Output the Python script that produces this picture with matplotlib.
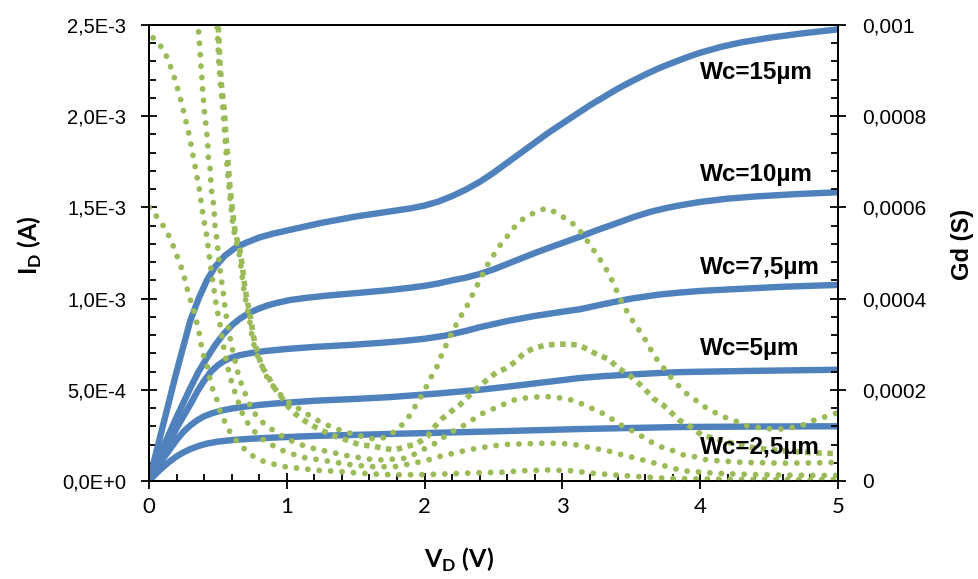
"""Drain current I_D and output conductance Gd vs V_D for five channel widths."""

import math

import matplotlib
matplotlib.use("Agg")
import matplotlib.pyplot as plt  # noqa: E402
from matplotlib.ticker import FuncFormatter, MultipleLocator  # noqa: E402

plt.rcParams["mathtext.fontset"] = "custom"
plt.rcParams["mathtext.bf"] = "Lato:bold"
plt.rcParams["mathtext.rm"] = "Lato"

BLUE = "#4F81BD"
GREEN = "#9BBB59"

# ---- I_D (A) vs V_D (V), solid blue, left axis ----
vd_15 = [0, 0.1, 0.2, 0.3, 0.36, 0.42, 0.48, 0.55, 0.62, 0.7, 0.8, 0.9, 1.0,
         1.1, 1.25, 1.5, 1.75, 1.9, 2.0, 2.1, 2.2, 2.3, 2.4, 2.5, 2.6, 2.7,
         2.8, 2.9, 3.0, 3.1, 3.2, 3.3, 3.4, 3.5, 3.6, 3.7, 3.8, 3.9, 4.0, 4.15,
         4.3, 4.5, 4.75, 5.0]
id_15 = [0, 0.30e-3, 0.60e-3, 0.88e-3, 1.0e-3, 1.1e-3, 1.175e-3, 1.235e-3,
         1.275e-3, 1.305e-3, 1.335e-3, 1.356e-3, 1.373e-3, 1.39e-3, 1.415e-3,
         1.45e-3, 1.478e-3, 1.495e-3, 1.51e-3, 1.532e-3, 1.562e-3, 1.598e-3,
         1.64e-3, 1.69e-3, 1.745e-3, 1.8e-3, 1.855e-3, 1.91e-3, 1.96e-3,
         2.01e-3, 2.06e-3, 2.105e-3, 2.15e-3, 2.19e-3, 2.228e-3, 2.263e-3,
         2.293e-3, 2.322e-3, 2.348e-3, 2.38e-3, 2.405e-3, 2.43e-3, 2.455e-3,
         2.476e-3]

vd_10 = [0, 0.1, 0.2, 0.3, 0.36, 0.42, 0.48, 0.54, 0.6, 0.66, 0.72, 0.78, 0.85,
         0.92, 1.02, 1.15, 1.3, 1.5, 1.75, 1.9, 2.0, 2.1, 2.2, 2.3, 2.4, 2.5,
         2.6, 2.7, 2.8, 2.9, 3.0, 3.13, 3.25, 3.4, 3.52, 3.64, 3.75, 3.85, 4.0,
         4.2, 4.4, 4.7, 5.0]
id_10 = [0, 0.18e-3, 0.35e-3, 0.51e-3, 0.60e-3, 0.675e-3, 0.745e-3, 0.805e-3,
         0.853e-3, 0.89e-3, 0.918e-3, 0.94e-3, 0.96e-3, 0.975e-3, 0.992e-3,
         1.005e-3, 1.017e-3, 1.03e-3, 1.047e-3, 1.06e-3, 1.07e-3, 1.083e-3,
         1.1e-3, 1.115e-3, 1.135e-3, 1.16e-3, 1.19e-3, 1.22e-3, 1.25e-3,
         1.278e-3, 1.305e-3, 1.34e-3, 1.375e-3, 1.415e-3, 1.448e-3, 1.476e-3,
         1.496e-3, 1.511e-3, 1.53e-3, 1.548e-3, 1.56e-3, 1.573e-3, 1.583e-3]

vd_7 = [0, 0.1, 0.2, 0.3, 0.35, 0.4, 0.45, 0.5, 0.55, 0.6, 0.66, 0.75, 0.85,
        1.0, 1.2, 1.46, 1.676, 1.85, 2.0, 2.15, 2.3, 2.4, 2.6, 2.8, 3.0, 3.13,
        3.3, 3.5, 3.7, 3.85, 4.0, 4.2, 4.6, 5.0]
id_7 = [0, 0.145e-3, 0.29e-3, 0.42e-3, 0.49e-3, 0.55e-3, 0.60e-3, 0.635e-3,
        0.66e-3, 0.677e-3, 0.69e-3, 0.703e-3, 0.713e-3, 0.724e-3, 0.735e-3,
        0.746e-3, 0.757e-3, 0.768e-3, 0.78e-3, 0.797e-3, 0.823e-3, 0.843e-3,
        0.877e-3, 0.905e-3, 0.928e-3, 0.942e-3, 0.97e-3, 1.0e-3, 1.022e-3,
        1.033e-3, 1.042e-3, 1.05e-3, 1.065e-3, 1.075e-3]

vd_5 = [0, 0.1, 0.2, 0.25, 0.3, 0.35, 0.4, 0.46, 0.52, 0.6, 0.7, 0.8, 0.9,
        1.05, 1.2, 1.5, 1.75, 2.1, 2.4, 2.6, 2.8, 3.0, 3.13, 3.3, 3.5, 3.7,
        3.85, 4.3, 5.0]
id_5 = [0, 0.12e-3, 0.225e-3, 0.27e-3, 0.305e-3, 0.333e-3, 0.355e-3,
        0.372e-3, 0.385e-3, 0.397e-3, 0.408e-3, 0.417e-3, 0.424e-3, 0.432e-3,
        0.44e-3, 0.45e-3, 0.46e-3, 0.48e-3, 0.50e-3, 0.517e-3, 0.535e-3,
        0.553e-3, 0.565e-3, 0.575e-3, 0.584e-3, 0.592e-3, 0.597e-3, 0.603e-3,
        0.61e-3]

vd_2 = [0, 0.05, 0.1, 0.15, 0.2, 0.25, 0.3, 0.36, 0.42, 0.5, 0.61, 0.75, 0.9,
        1.2, 1.75, 2.5, 3.13, 3.85, 4.5, 5.0]
id_2 = [0, 0.04e-3, 0.075e-3, 0.107e-3, 0.135e-3, 0.157e-3, 0.175e-3,
        0.192e-3, 0.205e-3, 0.216e-3, 0.225e-3, 0.232e-3, 0.238e-3, 0.247e-3,
        0.258e-3, 0.272e-3, 0.285e-3, 0.296e-3, 0.299e-3, 0.30e-3]

# ---- Gd (S) vs V_D (V), dotted green, right axis ----
gx_15 = [0.49, 0.495, 0.507, 0.52, 0.537, 0.549, 0.562, 0.575, 0.592, 0.61,
         0.627, 0.65, 0.67, 0.685, 0.70, 0.715, 0.73, 0.742, 0.76, 0.785, 0.818,
         0.86, 0.914, 0.963, 1.023, 1.096, 1.168, 1.24, 1.32, 1.40, 1.48, 1.57,
         1.65, 1.73, 1.80, 1.86, 1.91, 1.95, 2.0, 2.03, 2.08, 2.11, 2.18, 2.22,
         2.26, 2.305, 2.34, 2.38, 2.42, 2.46, 2.506, 2.55, 2.61, 2.66, 2.72,
         2.80, 2.88, 2.96, 3.03, 3.10, 3.15, 3.20, 3.25, 3.30, 3.34, 3.38, 3.41,
         3.45, 3.49, 3.54, 3.59, 3.63, 3.67, 3.73, 3.78, 3.84, 3.90, 3.96, 4.03,
         4.12, 4.20, 4.27, 4.34, 4.43, 4.52, 4.60, 4.68, 4.76, 4.83, 4.91, 5.0]
gd_15 = [1.02e-3, 0.996e-3, 0.916e-3, 0.865e-3, 0.814e-3, 0.762e-3, 0.711e-3,
         0.66e-3, 0.609e-3, 0.558e-3, 0.532e-3, 0.507e-3, 0.465e-3, 0.426e-3,
         0.40e-3, 0.375e-3, 0.353e-3, 0.327e-3, 0.30e-3, 0.276e-3, 0.254e-3,
         0.225e-3, 0.203e-3, 0.186e-3, 0.170e-3, 0.157e-3, 0.143e-3, 0.130e-3,
         0.119e-3, 0.110e-3, 0.103e-3, 0.0958e-3, 0.0914e-3, 0.097e-3,
         0.113e-3, 0.130e-3, 0.152e-3, 0.174e-3, 0.197e-3, 0.220e-3, 0.243e-3,
         0.267e-3, 0.314e-3, 0.338e-3, 0.360e-3, 0.382e-3, 0.404e-3, 0.428e-3,
         0.452e-3, 0.476e-3, 0.498e-3, 0.518e-3, 0.540e-3, 0.560e-3, 0.576e-3,
         0.589e-3, 0.598e-3, 0.588e-3, 0.574e-3, 0.559e-3, 0.540e-3, 0.518e-3,
         0.496e-3, 0.474e-3, 0.452e-3, 0.428e-3, 0.404e-3, 0.382e-3, 0.360e-3,
         0.338e-3, 0.316e-3, 0.294e-3, 0.273e-3, 0.250e-3, 0.230e-3, 0.210e-3,
         0.192e-3, 0.179e-3, 0.163e-3, 0.148e-3, 0.137e-3, 0.130e-3, 0.121e-3,
         0.117e-3, 0.114e-3, 0.114e-3, 0.118e-3, 0.124e-3, 0.134e-3, 0.141e-3,
         0.150e-3]

gx_10 = [0.497, 0.503, 0.515, 0.527, 0.546, 0.557, 0.571, 0.583, 0.60, 0.619,
         0.636, 0.66, 0.68, 0.695, 0.71, 0.726, 0.74, 0.752, 0.77, 0.793, 0.818,
         0.866, 0.902, 0.95, 1.01, 1.07, 1.14, 1.22, 1.29, 1.37, 1.45, 1.53,
         1.62, 1.70, 1.785, 1.86, 1.94, 2.02, 2.06, 2.12, 2.19, 2.26, 2.32, 2.38,
         2.45, 2.52, 2.59, 2.66, 2.72, 2.79, 2.88, 2.96, 3.04, 3.12, 3.20, 3.26,
         3.34, 3.40, 3.47, 3.54, 3.60, 3.66, 3.73, 3.79, 3.85, 3.93, 4.01, 4.2,
         4.4, 4.6, 4.8, 5.0]
gd_10 = [1.02e-3, 0.996e-3, 0.916e-3, 0.865e-3, 0.814e-3, 0.762e-3, 0.711e-3,
         0.66e-3, 0.609e-3, 0.558e-3, 0.532e-3, 0.507e-3, 0.465e-3, 0.426e-3,
         0.40e-3, 0.375e-3, 0.353e-3, 0.327e-3, 0.30e-3, 0.276e-3, 0.251e-3,
         0.229e-3, 0.207e-3, 0.189e-3, 0.163e-3, 0.145e-3, 0.130e-3, 0.116e-3,
         0.106e-3, 0.0958e-3, 0.0884e-3, 0.079e-3, 0.0768e-3, 0.0717e-3,
         0.068e-3, 0.0753e-3, 0.0811e-3, 0.0972e-3, 0.115e-3, 0.135e-3,
         0.152e-3, 0.168e-3, 0.186e-3, 0.203e-3, 0.221e-3, 0.238e-3, 0.247e-3,
         0.262e-3, 0.280e-3, 0.291e-3, 0.298e-3, 0.300e-3, 0.300e-3, 0.298e-3,
         0.286e-3, 0.276e-3, 0.267e-3, 0.248e-3, 0.236e-3, 0.218e-3, 0.201e-3,
         0.181e-3, 0.167e-3, 0.150e-3, 0.133e-3, 0.119e-3, 0.101e-3, 0.085e-3,
         0.072e-3, 0.066e-3, 0.062e-3, 0.060e-3]

gx_7 = [0.356, 0.358, 0.363, 0.37, 0.375, 0.382, 0.387, 0.394, 0.40, 0.41,
        0.419, 0.426, 0.43, 0.443, 0.448, 0.455, 0.467, 0.474, 0.479, 0.49,
        0.51, 0.52, 0.532, 0.544, 0.554, 0.566, 0.583, 0.597, 0.617, 0.636,
        0.655, 0.684, 0.72, 0.757, 0.81, 0.878, 0.95, 1.03, 1.11, 1.19, 1.27,
        1.36, 1.44, 1.53, 1.61, 1.70, 1.78, 1.86, 1.94, 2.02, 2.09, 2.16, 2.23,
        2.31, 2.38, 2.455, 2.535, 2.61, 2.69, 2.78, 2.86, 2.95, 3.03, 3.12,
        3.19, 3.26, 3.34, 3.41, 3.49, 3.56, 3.64, 3.71, 3.79, 3.88, 3.96, 4.05,
        4.3, 4.6, 4.88, 5.0]
gd_7 = [1.01e-3, 0.996e-3, 0.971e-3, 0.945e-3, 0.918e-3, 0.893e-3, 0.867e-3,
        0.841e-3, 0.816e-3, 0.79e-3, 0.764e-3, 0.739e-3, 0.711e-3, 0.686e-3,
        0.66e-3, 0.634e-3, 0.61e-3, 0.585e-3, 0.558e-3, 0.536e-3, 0.477e-3,
        0.453e-3, 0.428e-3, 0.401e-3, 0.375e-3, 0.352e-3, 0.325e-3, 0.298e-3,
        0.274e-3, 0.249e-3, 0.225e-3, 0.203e-3, 0.174e-3, 0.152e-3, 0.132e-3,
        0.116e-3, 0.101e-3, 0.0884e-3, 0.079e-3, 0.0717e-3, 0.0665e-3,
        0.0607e-3, 0.0555e-3, 0.0511e-3, 0.0475e-3, 0.046e-3, 0.0482e-3,
        0.0497e-3, 0.0607e-3, 0.0739e-3, 0.0848e-3, 0.101e-3, 0.113e-3,
        0.126e-3, 0.141e-3, 0.154e-3, 0.162e-3, 0.174e-3, 0.181e-3, 0.183e-3,
        0.186e-3, 0.183e-3, 0.181e-3, 0.172e-3, 0.162e-3, 0.154e-3, 0.140e-3,
        0.125e-3, 0.113e-3, 0.101e-3, 0.0863e-3, 0.0753e-3, 0.068e-3,
        0.057e-3, 0.0533e-3, 0.046e-3, 0.041e-3, 0.039e-3, 0.040e-3, 0.041e-3]

gx_5 = [0.03, 0.044, 0.104, 0.14, 0.169, 0.196, 0.22, 0.242, 0.261, 0.281,
        0.30, 0.314, 0.332, 0.346, 0.363, 0.375, 0.387, 0.40, 0.418, 0.438,
        0.45, 0.462, 0.474, 0.486, 0.503, 0.52, 0.532, 0.546, 0.564, 0.583,
        0.607, 0.69, 0.80, 0.945, 1.11, 1.28, 1.44, 1.61, 1.70, 1.785, 1.875,
        1.96, 2.04, 2.12, 2.21, 2.29, 2.38, 2.46, 2.55, 2.63, 2.72, 2.80, 2.88,
        2.97, 3.06, 3.14, 3.22, 3.31, 3.39, 3.47, 3.56, 3.63, 3.72, 3.80, 3.90,
        4.1, 4.4, 4.7, 5.0]
gd_5 = [0.972e-3, 0.967e-3, 0.947e-3, 0.922e-3, 0.898e-3, 0.873e-3, 0.848e-3,
        0.822e-3, 0.797e-3, 0.773e-3, 0.746e-3, 0.721e-3, 0.695e-3, 0.67e-3,
        0.644e-3, 0.619e-3, 0.593e-3, 0.569e-3, 0.539e-3, 0.492e-3, 0.464e-3,
        0.439e-3, 0.414e-3, 0.39e-3, 0.362e-3, 0.337e-3, 0.311e-3, 0.286e-3,
        0.259e-3, 0.235e-3, 0.209e-3, 0.137e-3, 0.0958e-3, 0.0695e-3,
        0.052e-3, 0.0445e-3, 0.0366e-3, 0.0314e-3, 0.0314e-3, 0.0314e-3,
        0.0366e-3, 0.0417e-3, 0.0475e-3, 0.0548e-3, 0.0607e-3, 0.0665e-3,
        0.0717e-3, 0.0753e-3, 0.079e-3, 0.0811e-3, 0.0811e-3, 0.0826e-3,
        0.0826e-3, 0.0826e-3, 0.0811e-3, 0.0775e-3, 0.0717e-3, 0.068e-3,
        0.0607e-3, 0.0548e-3, 0.0482e-3, 0.0423e-3, 0.0351e-3, 0.0278e-3,
        0.0219e-3, 0.017e-3, 0.014e-3, 0.0125e-3, 0.012e-3]

gx_2 = [0, 0.07, 0.12, 0.16, 0.22, 0.25, 0.29, 0.32, 0.36, 0.39, 0.42, 0.455,
        0.49, 0.515, 0.55, 0.59, 0.64, 0.70, 0.77, 0.84, 0.93, 1.01, 1.10,
        1.19, 1.28, 1.45, 1.62, 1.78, 2.0, 2.2, 2.38, 2.55, 2.72, 2.89, 3.06,
        3.22, 3.39, 3.56, 3.74, 4.0, 4.3, 4.6, 5.0]
gd_2 = [0.600e-3, 0.575e-3, 0.552e-3, 0.528e-3, 0.480e-3, 0.455e-3, 0.406e-3,
        0.380e-3, 0.331e-3, 0.280e-3, 0.254e-3, 0.207e-3, 0.181e-3, 0.153e-3,
        0.130e-3, 0.106e-3, 0.086e-3, 0.068e-3, 0.051e-3, 0.042e-3, 0.035e-3,
        0.030e-3, 0.028e-3, 0.024e-3, 0.0226e-3, 0.019e-3, 0.0154e-3,
        0.0135e-3, 0.014e-3, 0.016e-3, 0.018e-3, 0.019e-3, 0.0226e-3,
        0.0241e-3, 0.0226e-3, 0.017e-3, 0.013e-3, 0.0095e-3, 0.006e-3,
        0.0045e-3, 0.0035e-3, 0.003e-3, 0.003e-3]

LABELS = ["Wc=15µm", "Wc=10µm", "Wc=7,5µm", "Wc=5µm", "Wc=2,5µm"]
LABEL_Y = [2.242e-3, 1.678e-3, 1.173e-3, 0.729e-3, 0.186e-3]


def sci_comma(v, _pos=None):
    if abs(v) < 1e-12:
        return "0,0E+0"
    e = math.floor(math.log10(abs(v)) + 1e-9)
    m = v / 10 ** e
    return f"{m:.1f}".replace(".", ",") + f"E{e:+d}"


def plain_comma(v, _pos=None):
    if abs(v) < 1e-12:
        return "0"
    return f"{v:.6g}".replace(".", ",")


def main():
    fig = plt.figure(figsize=(9.79, 5.79), dpi=100)
    ax = fig.add_axes([149 / 979, 1 - 481 / 579, 689 / 979, 456 / 579])
    ax2 = ax.twinx()

    for x, y in [(vd_15, id_15), (vd_10, id_10), (vd_7, id_7),
                 (vd_5, id_5), (vd_2, id_2)]:
        ax.plot(x, y, color=BLUE, lw=4.6, solid_capstyle="round",
                solid_joinstyle="round")

    dot = (0, (0.01, 1.95))
    for x, y in [(gx_15, gd_15), (gx_7, gd_7), (gx_5, gd_5), (gx_2, gd_2)]:
        ax2.plot(x, y, color=GREEN, lw=4.2, linestyle=dot,
                 dash_capstyle="round")
    ax2.plot(gx_10, gd_10, color=GREEN, lw=4.0, linestyle=(0, (1, 1.0)),
             dash_capstyle="butt")

    ax.set_xlim(0, 5)
    ax.set_ylim(0, 2.5e-3)
    ax2.set_ylim(0, 1e-3)

    ax.xaxis.set_major_locator(MultipleLocator(1))
    ax.xaxis.set_minor_locator(MultipleLocator(0.2))
    ax.yaxis.set_major_locator(MultipleLocator(0.5e-3))
    ax.yaxis.set_minor_locator(MultipleLocator(1e-4))
    ax2.yaxis.set_major_locator(MultipleLocator(2e-4))
    ax2.yaxis.set_minor_locator(MultipleLocator(4e-5))
    ax.yaxis.set_major_formatter(FuncFormatter(sci_comma))
    ax2.yaxis.set_major_formatter(FuncFormatter(plain_comma))

    for a in (ax, ax2):
        for sp in a.spines.values():
            sp.set_linewidth(1.3)
            sp.set_color("black")
        a.tick_params(which="major", direction="inout", length=11, width=1.3)
        a.tick_params(which="minor", direction="in", length=5, width=1.3)
    ax.tick_params(axis="y", which="major", pad=11, labelsize=14.5)
    ax.tick_params(axis="x", which="major", pad=6, labelsize=16)
    ax2.tick_params(axis="y", which="major", pad=12, labelsize=15)
    for lab in ax.get_yticklabels() + ax2.get_yticklabels():
        lab.set_family("Liberation Sans")
    for lab in ax.get_xticklabels():
        lab.set_family("Lato")

    for text, y in zip(LABELS, LABEL_Y):
        ax2.text(4.0, y, text, transform=ax.transData, ha="left",
                 va="center", fontsize=17.5, fontweight="bold",
                 family="Liberation Sans", zorder=10)

    fig.text(30 / 979, 1 - 245 / 579, r"I$_{\mathbf{D}}$ (A)", rotation=90,
             ha="center", va="center", fontsize=18, fontweight="bold",
             family="Lato")
    fig.text(459 / 979, 1 - 560 / 579, r"V$_{\mathbf{D}}$ (V)",
             ha="center", va="center", fontsize=18, fontweight="bold",
             family="Lato")
    fig.text(963 / 979, 1 - 244 / 579, "Gd (S)", rotation=90,
             ha="center", va="center", fontsize=17, fontweight="bold",
             family="Liberation Sans")

    fig.savefig("out.png", dpi=100)
    plt.close(fig)


if __name__ == "__main__":
    main()
